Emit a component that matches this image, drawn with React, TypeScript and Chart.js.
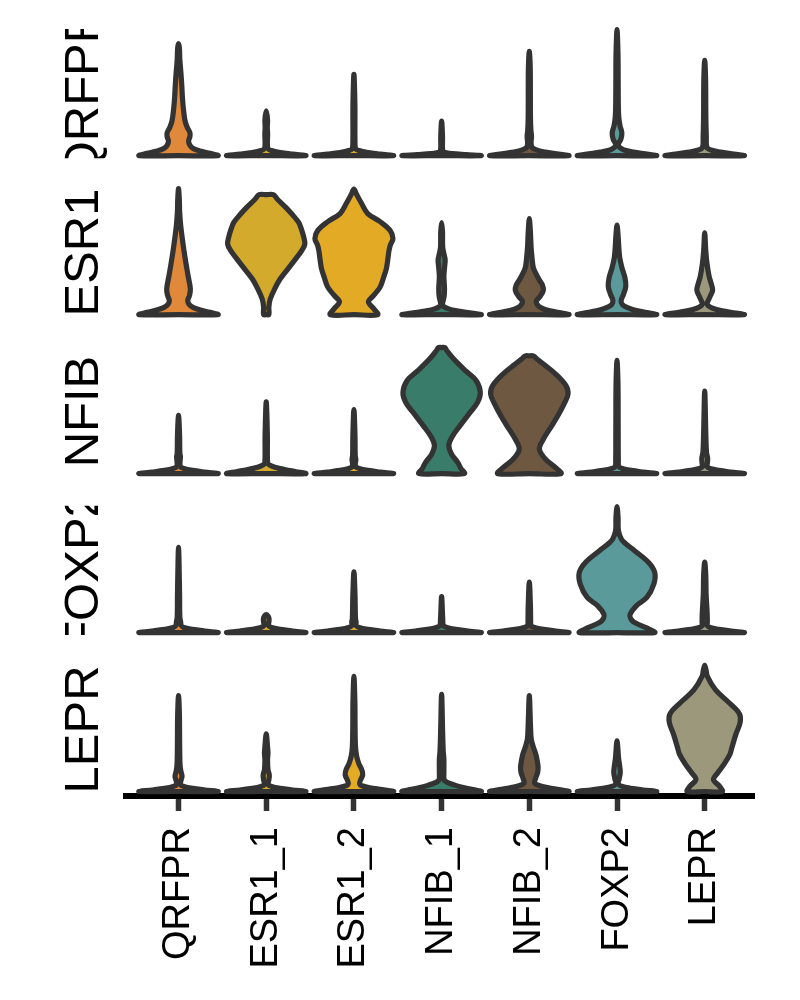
import React, { useEffect, useRef } from 'react';
import { Chart, registerables } from 'chart.js';

Chart.register(...registerables);

// Row (gene) labels, top to bottom
const geneLabels = ['QRFPR', 'ESR1', 'NFIB', 'FOXP2', 'LEPR'];
// Column (cluster) labels, left to right
const clusterLabels = ['QRFPR', 'ESR1_1', 'ESR1_2', 'NFIB_1', 'NFIB_2', 'FOXP2', 'LEPR'];
const clusterColors = ['#E0893A', '#D4AA2D', '#E3AA25', '#3A7C6A', '#6F5841', '#5A9A9A', '#9B987C'];

// Violin profiles per gene row: for each cluster, [expression level (fraction of row max), half density width]
const qrfprViolins: number[][][] = [
  [[0, 0.45], [0.018, 0.36], [0.034, 0.26], [0.055, 0.17], [0.08, 0.13], [0.115, 0.115], [0.15, 0.13], [0.18, 0.13], [0.22, 0.1], [0.27, 0.075], [0.35, 0.058], [0.45, 0.045], [0.55, 0.037], [0.65, 0.027], [0.75, 0.015], [0.84, 0.01], [0.875, 0]],
  [[0, 0.45], [0.012, 0.3], [0.025, 0.16], [0.04, 0.06], [0.055, 0.02], [0.1, 0.013], [0.17, 0.016], [0.22, 0.012], [0.28, 0.015], [0.35, 0]],
  [[0, 0.45], [0.012, 0.3], [0.025, 0.16], [0.04, 0.06], [0.055, 0.02], [0.1, 0.012], [0.4, 0.011], [0.635, 0]],
  [[0, 0.45], [0.008, 0.28], [0.016, 0.12], [0.025, 0.04], [0.04, 0.013], [0.15, 0.01], [0.27, 0]],
  [[0, 0.45], [0.014, 0.31], [0.028, 0.18], [0.045, 0.08], [0.065, 0.03], [0.1, 0.02], [0.15, 0.025], [0.2, 0.018], [0.3, 0.013], [0.5, 0.012], [0.7, 0.01], [0.815, 0]],
  [[0, 0.45], [0.014, 0.32], [0.028, 0.19], [0.045, 0.08], [0.065, 0.03], [0.09, 0.015], [0.13, 0.045], [0.18, 0.055], [0.23, 0.035], [0.3, 0.02], [0.4, 0.015], [0.6, 0.013], [0.8, 0.011], [0.985, 0]],
  [[0, 0.45], [0.014, 0.31], [0.028, 0.18], [0.045, 0.07], [0.065, 0.025], [0.15, 0.018], [0.3, 0.013], [0.6, 0.01], [0.745, 0]],
];

const esr1Violins: number[][][] = [
  [[0, 0.45], [0.018, 0.36], [0.034, 0.26], [0.055, 0.17], [0.08, 0.12], [0.11, 0.105], [0.15, 0.125], [0.2, 0.135], [0.3, 0.11], [0.4, 0.085], [0.5, 0.062], [0.6, 0.042], [0.7, 0.024], [0.8, 0.013], [0.9, 0.009], [0.985, 0]],
  [[0, 0.03], [0.06, 0.03], [0.12, 0.045], [0.2, 0.095], [0.28, 0.16], [0.36, 0.25], [0.44, 0.34], [0.5, 0.405], [0.55, 0.44], [0.6, 0.43], [0.67, 0.4], [0.72, 0.37], [0.78, 0.3], [0.84, 0.22], [0.9, 0.13], [0.937, 0.08], [0.937, 0]],
  [[0, 0.27], [0.047, 0.225], [0.1, 0.165], [0.15, 0.225], [0.217, 0.3], [0.295, 0.34], [0.36, 0.37], [0.425, 0.385], [0.5, 0.4], [0.543, 0.415], [0.595, 0.445], [0.66, 0.41], [0.726, 0.3], [0.79, 0.157], [0.87, 0.086], [0.94, 0.03], [0.98, 0]],
  [[0, 0.45], [0.014, 0.32], [0.028, 0.19], [0.045, 0.08], [0.065, 0.02], [0.085, 0.01], [0.14, 0.028], [0.2, 0.033], [0.3, 0.026], [0.38, 0.035], [0.43, 0.04], [0.48, 0.025], [0.53, 0.012], [0.65, 0.01], [0.72, 0]],
  [[0, 0.45], [0.016, 0.34], [0.032, 0.22], [0.055, 0.13], [0.08, 0.09], [0.105, 0.078], [0.14, 0.12], [0.19, 0.16], [0.23, 0.15], [0.27, 0.115], [0.32, 0.075], [0.37, 0.045], [0.45, 0.03], [0.53, 0.02], [0.65, 0.012], [0.75, 0]],
  [[0, 0.45], [0.016, 0.34], [0.032, 0.22], [0.055, 0.12], [0.08, 0.06], [0.11, 0.047], [0.16, 0.075], [0.22, 0.1], [0.29, 0.09], [0.37, 0.055], [0.45, 0.03], [0.53, 0.02], [0.62, 0.012], [0.7, 0]],
  [[0, 0.45], [0.015, 0.33], [0.03, 0.2], [0.05, 0.09], [0.072, 0.035], [0.09, 0.028], [0.14, 0.06], [0.19, 0.09], [0.24, 0.075], [0.3, 0.05], [0.4, 0.026], [0.5, 0.012], [0.64, 0]],
];

const nfibViolins: number[][][] = [
  [[0, 0.45], [0.012, 0.3], [0.025, 0.16], [0.04, 0.06], [0.055, 0.02], [0.1, 0.018], [0.13, 0.022], [0.16, 0.015], [0.3, 0.012], [0.455, 0]],
  [[0, 0.45], [0.015, 0.34], [0.03, 0.22], [0.05, 0.1], [0.07, 0.03], [0.09, 0.015], [0.3, 0.013], [0.56, 0]],
  [[0, 0.45], [0.012, 0.3], [0.025, 0.16], [0.04, 0.06], [0.055, 0.02], [0.08, 0.016], [0.11, 0.022], [0.14, 0.015], [0.3, 0.012], [0.5, 0]],
  [[0, 0.26], [0.04, 0.22], [0.086, 0.185], [0.15, 0.115], [0.217, 0.082], [0.282, 0.115], [0.373, 0.208], [0.478, 0.325], [0.556, 0.41], [0.634, 0.441], [0.726, 0.395], [0.8, 0.278], [0.895, 0.138], [0.96, 0.06], [0.985, 0.035], [0.985, 0]],
  [[0, 0.36], [0.047, 0.3], [0.112, 0.185], [0.19, 0.115], [0.27, 0.161], [0.373, 0.255], [0.452, 0.325], [0.543, 0.395], [0.62, 0.441], [0.687, 0.418], [0.778, 0.3], [0.856, 0.16], [0.9, 0.08], [0.92, 0.045], [0.92, 0]],
  [[0, 0.45], [0.012, 0.3], [0.025, 0.16], [0.04, 0.06], [0.055, 0.02], [0.1, 0.015], [0.4, 0.013], [0.7, 0.011], [0.885, 0]],
  [[0, 0.45], [0.012, 0.3], [0.025, 0.16], [0.04, 0.06], [0.055, 0.025], [0.08, 0.03], [0.12, 0.033], [0.17, 0.02], [0.3, 0.013], [0.645, 0]],
];

const foxp2Violins: number[][][] = [
  [[0, 0.45], [0.012, 0.3], [0.025, 0.16], [0.04, 0.06], [0.055, 0.03], [0.08, 0.025], [0.12, 0.015], [0.3, 0.012], [0.665, 0]],
  [[0, 0.45], [0.012, 0.3], [0.025, 0.16], [0.04, 0.06], [0.055, 0.025], [0.08, 0.03], [0.11, 0.032], [0.13, 0.02], [0.14, 0]],
  [[0, 0.45], [0.012, 0.3], [0.025, 0.16], [0.04, 0.06], [0.055, 0.022], [0.08, 0.025], [0.11, 0.018], [0.3, 0.012], [0.475, 0]],
  [[0, 0.45], [0.012, 0.3], [0.025, 0.16], [0.04, 0.06], [0.055, 0.02], [0.1, 0.013], [0.28, 0]],
  [[0, 0.45], [0.012, 0.3], [0.025, 0.16], [0.04, 0.06], [0.055, 0.02], [0.09, 0.015], [0.2, 0.013], [0.395, 0]],
  [[0, 0.43], [0.026, 0.37], [0.078, 0.2], [0.11, 0.155], [0.144, 0.15], [0.209, 0.22], [0.274, 0.34], [0.38, 0.42], [0.47, 0.43], [0.548, 0.36], [0.64, 0.2], [0.7, 0.09], [0.73, 0.05], [0.796, 0.016], [0.9, 0.012], [0.985, 0]],
  [[0, 0.45], [0.012, 0.3], [0.025, 0.16], [0.04, 0.06], [0.055, 0.028], [0.08, 0.03], [0.15, 0.028], [0.3, 0.016], [0.45, 0.012], [0.55, 0]],
];

const leprViolins: number[][][] = [
  [[0, 0.45], [0.012, 0.3], [0.025, 0.16], [0.04, 0.06], [0.055, 0.02], [0.09, 0.03], [0.12, 0.04], [0.15, 0.03], [0.2, 0.018], [0.35, 0.013], [0.6, 0.01], [0.75, 0]],
  [[0, 0.45], [0.012, 0.3], [0.025, 0.16], [0.04, 0.06], [0.055, 0.02], [0.09, 0.03], [0.13, 0.035], [0.17, 0.02], [0.25, 0.015], [0.3, 0.02], [0.35, 0.015], [0.45, 0]],
  [[0, 0.45], [0.015, 0.32], [0.03, 0.18], [0.045, 0.09], [0.06, 0.065], [0.09, 0.075], [0.13, 0.1], [0.17, 0.09], [0.22, 0.055], [0.28, 0.03], [0.35, 0.018], [0.5, 0.013], [0.7, 0.011], [0.9, 0]],
  [[0, 0.45], [0.015, 0.36], [0.03, 0.26], [0.05, 0.15], [0.07, 0.07], [0.09, 0.03], [0.15, 0.026], [0.25, 0.026], [0.32, 0.018], [0.45, 0.012], [0.76, 0]],
  [[0, 0.45], [0.015, 0.34], [0.03, 0.22], [0.045, 0.12], [0.066, 0.06], [0.1, 0.07], [0.15, 0.095], [0.19, 0.1], [0.24, 0.09], [0.29, 0.075], [0.35, 0.045], [0.41, 0.022], [0.5, 0.014], [0.75, 0]],
  [[0, 0.45], [0.012, 0.3], [0.025, 0.16], [0.04, 0.06], [0.06, 0.015], [0.1, 0.025], [0.15, 0.037], [0.2, 0.03], [0.26, 0.018], [0.395, 0]],
  [[0, 0.2], [0.04, 0.17], [0.093, 0.1], [0.145, 0.147], [0.21, 0.217], [0.29, 0.287], [0.344, 0.31], [0.45, 0.357], [0.54, 0.404], [0.608, 0.395], [0.688, 0.287], [0.794, 0.124], [0.9, 0.03], [0.95, 0.015], [0.985, 0]],
];

const violinRows = [qrfprViolins, esr1Violins, nfibViolins, foxp2Violins, leprViolins];

const ROW_PITCH = 1.242;
const Y_MIN = -0.035;
const Y_MAX = 5.95;
const X_MIN = -0.599;
const X_MAX = 6.562;
const FONT = '"Liberation Sans", Arial, Helvetica, sans-serif';

function rowBase(geneIndex: number) {
  return (geneLabels.length - 1 - geneIndex) * ROW_PITCH;
}

function violinPoints(profile: number[][], center: number, base: number) {
  const pts: { x: number; y: number }[] = [{ x: center, y: base }];
  for (const [h, w] of profile) pts.push({ x: center + w, y: base + h });
  for (let i = profile.length - 2; i >= 0; i--) {
    const [h, w] = profile[i];
    pts.push({ x: center - w, y: base + h });
  }
  pts.push({ x: center, y: base });
  return pts;
}

const rowLabelPlugin = {
  id: 'rowLabels',
  afterDraw(chart: any) {
    const { ctx } = chart;
    const yScale = chart.scales.y;
    geneLabels.forEach((g, i) => {
      const base = rowBase(i);
      const top = yScale.getPixelForValue(base + 0.99);
      const bottom = yScale.getPixelForValue(base - 0.02);
      ctx.save();
      ctx.beginPath();
      ctx.rect(0, top, chart.chartArea.left - 2, bottom - top);
      ctx.clip();
      ctx.translate(98, (top + bottom) / 2);
      ctx.rotate(-Math.PI / 2);
      ctx.font = `49px ${FONT}`;
      ctx.fillStyle = '#000';
      ctx.textAlign = 'center';
      ctx.textBaseline = 'alphabetic';
      ctx.fillText(g, 0, 0);
      ctx.restore();
    });
  },
};

export default function App() {
  const canvasRef = useRef<HTMLCanvasElement | null>(null);

  useEffect(() => {
    if (!canvasRef.current) return;
    const datasets: any[] = [];
    violinRows.forEach((row, g) => {
      const base = rowBase(g);
      row.forEach((profile, c) => {
        datasets.push({
          label: `${geneLabels[g]}-${clusterLabels[c]}`,
          data: violinPoints(profile, c, base),
          borderColor: '#333333',
          backgroundColor: clusterColors[c],
          borderWidth: 5.2,
          fill: 'shape',
          tension: 0.35,
          pointRadius: 0,
          pointHoverRadius: 0,
          pointHitRadius: 0,
          borderJoinStyle: 'round',
          borderCapStyle: 'round',
          capBezierPoints: false,
          clip: false,
        });
      });
    });

    const chart = new Chart(canvasRef.current, {
      type: 'line',
      data: { datasets },
      options: {
        animation: false,
        responsive: false,
        devicePixelRatio: 1,
        events: [],
        layout: { padding: { top: 30, left: 126, right: 46, bottom: 0 } },
        plugins: { legend: { display: false }, tooltip: { enabled: false } },
        scales: {
          x: {
            type: 'linear',
            min: X_MIN,
            max: X_MAX,
            z: 1,
            border: { display: true, color: '#000', width: 6 },
            grid: { display: true, drawOnChartArea: false, drawTicks: true, tickLength: 15, tickWidth: 5.5, tickColor: '#333333' },
            ticks: {
              autoSkip: false,
              minRotation: 90,
              maxRotation: 90,
              padding: 16,
              color: '#000',
              font: { size: 38, family: FONT },
              callback: (v: any) => clusterLabels[v as number] ?? '',
            },
            afterBuildTicks: (scale: any) => {
              scale.ticks = clusterLabels.map((_, i) => ({ value: i }));
            },
            afterFit: (scale: any) => {
              scale.height = 204;
            },
          },
          y: {
            type: 'linear',
            min: Y_MIN,
            max: Y_MAX,
            display: false,
          },
        },
      },
      plugins: [rowLabelPlugin],
    } as any);

    return () => chart.destroy();
  }, []);

  return (
    <div style={{ position: 'absolute', left: 0, top: 0, width: 800, height: 1000, background: '#fff' }}>
      <canvas ref={canvasRef} width={800} height={1000} />
    </div>
  );
}
